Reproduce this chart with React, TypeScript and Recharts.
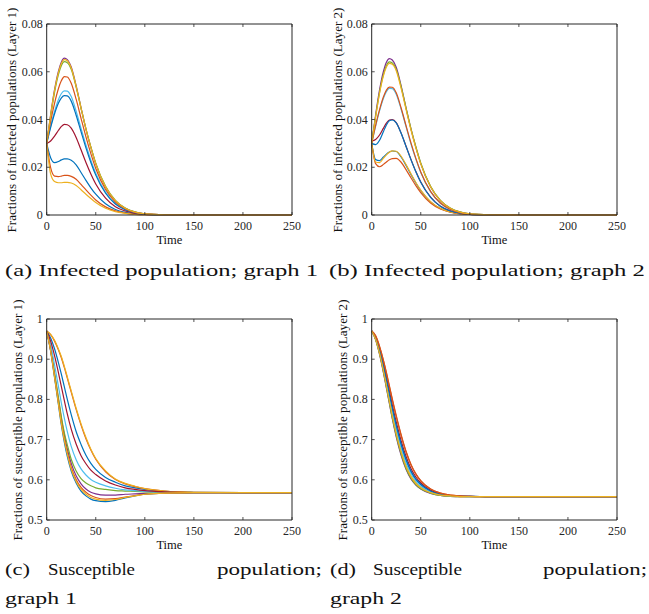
import React from 'react';
import { LineChart, Line, XAxis, YAxis } from 'recharts';

const TIME = [0, 4, 8, 12, 15, 18, 21, 25, 30, 35, 40, 45, 50, 60, 70, 80, 90, 100, 120, 150, 200, 250];
const COLORS = ['#0072BD', '#D95319', '#EDB120', '#7E2F8E', '#77AC30', '#4DBEEE', '#A2142F', '#0072BD', '#D95319', '#EDB120'];
const X_TICKS = [0, 50, 100, 150, 200, 250];
const I_TICKS = [0, 0.02, 0.04, 0.06, 0.08];
const S_TICKS = [0.5, 0.6, 0.7, 0.8, 0.9, 1];

// (a) infected, layer 1
const A1 = [0.030, 0.0240, 0.0219, 0.0224, 0.0231, 0.0235, 0.0235, 0.0229, 0.0210, 0.0178, 0.0145, 0.0114, 0.0087, 0.0047, 0.0023, 0.0011, 0.0005, 0.0002, 0, 0, 0, 0];
const A2 = [0.030, 0.0198, 0.0163, 0.0161, 0.0163, 0.0166, 0.0166, 0.0162, 0.0150, 0.0128, 0.0105, 0.0083, 0.0063, 0.0034, 0.0017, 0.0008, 0.0003, 0.0001, 0, 0, 0, 0];
const A3 = [0.030, 0.0172, 0.0140, 0.0135, 0.0135, 0.0137, 0.0137, 0.0134, 0.0124, 0.0106, 0.0087, 0.0069, 0.0052, 0.0028, 0.0014, 0.0007, 0.0003, 0.0001, 0, 0, 0, 0];
const A4 = [0.030, 0.0420, 0.0525, 0.0603, 0.0641, 0.0657, 0.0651, 0.0620, 0.0542, 0.0449, 0.0360, 0.0283, 0.0214, 0.0117, 0.0059, 0.0028, 0.0012, 0.0005, 0.0001, 0, 0, 0];
const A5 = [0.030, 0.0413, 0.0514, 0.0589, 0.0626, 0.0642, 0.0638, 0.0610, 0.0536, 0.0447, 0.0361, 0.0285, 0.0217, 0.0120, 0.0061, 0.0029, 0.0013, 0.0005, 0.0001, 0, 0, 0];
const A6 = [0.030, 0.0372, 0.0434, 0.0484, 0.0509, 0.0520, 0.0519, 0.0496, 0.0435, 0.0363, 0.0293, 0.0230, 0.0175, 0.0096, 0.0048, 0.0023, 0.0010, 0.0004, 0.0001, 0, 0, 0];
const A7 = [0.030, 0.0310, 0.0330, 0.0355, 0.0371, 0.0380, 0.0378, 0.0364, 0.0325, 0.0273, 0.0220, 0.0172, 0.0130, 0.0071, 0.0035, 0.0017, 0.0007, 0.0003, 0.0001, 0, 0, 0];
const A8 = [0.030, 0.0366, 0.0424, 0.0469, 0.0491, 0.0500, 0.0499, 0.0477, 0.0418, 0.0349, 0.0281, 0.0220, 0.0167, 0.0091, 0.0046, 0.0022, 0.0010, 0.0004, 0.0001, 0, 0, 0];
const A9 = [0.030, 0.0392, 0.0468, 0.0530, 0.0563, 0.0580, 0.0578, 0.0552, 0.0485, 0.0405, 0.0327, 0.0257, 0.0195, 0.0107, 0.0054, 0.0026, 0.0011, 0.0005, 0.0001, 0, 0, 0];
const A10 = [0.030, 0.0417, 0.0521, 0.0597, 0.0635, 0.0651, 0.0646, 0.0616, 0.0539, 0.0448, 0.0360, 0.0283, 0.0215, 0.0118, 0.0060, 0.0028, 0.0012, 0.0005, 0.0001, 0, 0, 0];

// (b) infected, layer 2
const B1 = [0.030, 0.0232, 0.0228, 0.0243, 0.0255, 0.0264, 0.0268, 0.0266, 0.0243, 0.0208, 0.0170, 0.0134, 0.0102, 0.0055, 0.0027, 0.0013, 0.0006, 0.0002, 0, 0, 0, 0];
const B2 = [0.030, 0.0215, 0.0202, 0.0212, 0.0222, 0.0231, 0.0236, 0.0237, 0.0221, 0.0190, 0.0156, 0.0123, 0.0094, 0.0050, 0.0025, 0.0012, 0.0005, 0.0002, 0, 0, 0, 0];
const B3 = [0.030, 0.0222, 0.0219, 0.0238, 0.0252, 0.0263, 0.0269, 0.0267, 0.0246, 0.0211, 0.0173, 0.0136, 0.0104, 0.0056, 0.0028, 0.0013, 0.0006, 0.0002, 0, 0, 0, 0];
const B4 = [0.030, 0.0420, 0.0524, 0.0602, 0.0640, 0.0655, 0.0649, 0.0619, 0.0541, 0.0449, 0.0361, 0.0284, 0.0215, 0.0118, 0.0060, 0.0028, 0.0012, 0.0005, 0.0001, 0, 0, 0];
const B5 = [0.030, 0.0413, 0.0514, 0.0589, 0.0626, 0.0641, 0.0637, 0.0610, 0.0537, 0.0448, 0.0362, 0.0286, 0.0218, 0.0120, 0.0061, 0.0029, 0.0013, 0.0005, 0.0001, 0, 0, 0];
const B6 = [0.030, 0.0372, 0.0436, 0.0489, 0.0517, 0.0530, 0.0529, 0.0506, 0.0443, 0.0370, 0.0298, 0.0234, 0.0178, 0.0098, 0.0049, 0.0023, 0.0010, 0.0004, 0.0001, 0, 0, 0];
const B7 = [0.031, 0.0316, 0.0335, 0.0364, 0.0385, 0.0398, 0.0400, 0.0387, 0.0343, 0.0288, 0.0233, 0.0182, 0.0138, 0.0075, 0.0037, 0.0018, 0.0008, 0.0003, 0.0001, 0, 0, 0];
const B8 = [0.030, 0.0295, 0.0313, 0.0350, 0.0377, 0.0395, 0.0398, 0.0386, 0.0342, 0.0287, 0.0232, 0.0181, 0.0137, 0.0074, 0.0037, 0.0017, 0.0008, 0.0003, 0.0001, 0, 0, 0];
const B9 = [0.030, 0.0375, 0.0441, 0.0495, 0.0523, 0.0536, 0.0535, 0.0512, 0.0448, 0.0374, 0.0302, 0.0237, 0.0180, 0.0099, 0.0050, 0.0024, 0.0010, 0.0004, 0.0001, 0, 0, 0];
const B10 = [0.030, 0.0410, 0.0510, 0.0584, 0.0620, 0.0635, 0.0631, 0.0604, 0.0530, 0.0442, 0.0357, 0.0281, 0.0214, 0.0118, 0.0060, 0.0028, 0.0012, 0.0005, 0.0001, 0, 0, 0];

// (c) susceptible, layer 1
const C1 = [0.970, 0.953, 0.926, 0.891, 0.862, 0.831, 0.800, 0.762, 0.720, 0.688, 0.661, 0.641, 0.626, 0.606, 0.594, 0.585, 0.580, 0.576, 0.571, 0.569, 0.568, 0.568];
const C2 = [0.970, 0.961, 0.945, 0.923, 0.903, 0.879, 0.853, 0.818, 0.775, 0.736, 0.702, 0.674, 0.651, 0.620, 0.601, 0.590, 0.583, 0.578, 0.572, 0.569, 0.568, 0.568];
const C3 = [0.970, 0.962, 0.947, 0.925, 0.906, 0.882, 0.856, 0.821, 0.778, 0.739, 0.705, 0.676, 0.653, 0.622, 0.602, 0.591, 0.584, 0.578, 0.572, 0.569, 0.568, 0.568];
const C4 = [0.970, 0.924, 0.863, 0.799, 0.751, 0.711, 0.677, 0.641, 0.610, 0.590, 0.577, 0.569, 0.565, 0.562, 0.562, 0.564, 0.565, 0.566, 0.567, 0.568, 0.568, 0.568];
const C5 = [0.970, 0.925, 0.866, 0.804, 0.756, 0.717, 0.687, 0.651, 0.622, 0.603, 0.592, 0.585, 0.580, 0.576, 0.573, 0.572, 0.571, 0.570, 0.569, 0.568, 0.568, 0.568];
const C6 = [0.970, 0.937, 0.886, 0.832, 0.790, 0.753, 0.720, 0.683, 0.650, 0.627, 0.612, 0.601, 0.594, 0.585, 0.579, 0.575, 0.573, 0.571, 0.569, 0.568, 0.568, 0.568];
const C7 = [0.970, 0.945, 0.909, 0.866, 0.831, 0.797, 0.764, 0.726, 0.689, 0.660, 0.640, 0.624, 0.613, 0.597, 0.587, 0.580, 0.576, 0.573, 0.570, 0.568, 0.568, 0.568];
const C8 = [0.970, 0.920, 0.854, 0.786, 0.735, 0.693, 0.658, 0.622, 0.592, 0.572, 0.560, 0.552, 0.548, 0.5455, 0.549, 0.555, 0.560, 0.564, 0.567, 0.568, 0.568, 0.568];
const C9 = [0.970, 0.922, 0.858, 0.792, 0.742, 0.702, 0.668, 0.631, 0.601, 0.581, 0.569, 0.561, 0.556, 0.552, 0.553, 0.557, 0.561, 0.564, 0.567, 0.568, 0.568, 0.568];
const C10 = [0.970, 0.921, 0.856, 0.789, 0.739, 0.698, 0.664, 0.626, 0.596, 0.576, 0.564, 0.556, 0.552, 0.549, 0.551, 0.556, 0.560, 0.564, 0.567, 0.568, 0.568, 0.568];

// (d) susceptible, layer 2
const D1 = [0.970, 0.953, 0.922, 0.882, 0.848, 0.812, 0.777, 0.734, 0.687, 0.649, 0.621, 0.601, 0.588, 0.572, 0.564, 0.561, 0.559, 0.559, 0.558, 0.558, 0.558, 0.558];
const D2 = [0.970, 0.958, 0.932, 0.897, 0.867, 0.834, 0.801, 0.760, 0.712, 0.671, 0.639, 0.615, 0.598, 0.577, 0.567, 0.562, 0.560, 0.559, 0.558, 0.558, 0.558, 0.558];
const D3 = [0.970, 0.950, 0.916, 0.872, 0.836, 0.799, 0.762, 0.718, 0.671, 0.635, 0.609, 0.593, 0.581, 0.568, 0.562, 0.560, 0.558, 0.558, 0.558, 0.558, 0.558, 0.558];
const D4 = [0.970, 0.948, 0.912, 0.866, 0.828, 0.790, 0.752, 0.707, 0.661, 0.626, 0.602, 0.587, 0.577, 0.566, 0.561, 0.559, 0.558, 0.558, 0.558, 0.558, 0.558, 0.558];
const D5 = [0.970, 0.949, 0.913, 0.868, 0.830, 0.792, 0.754, 0.710, 0.664, 0.628, 0.604, 0.588, 0.578, 0.567, 0.561, 0.559, 0.558, 0.558, 0.558, 0.558, 0.558, 0.558];
const D6 = [0.970, 0.952, 0.919, 0.877, 0.842, 0.805, 0.769, 0.726, 0.679, 0.642, 0.615, 0.597, 0.584, 0.570, 0.563, 0.560, 0.559, 0.558, 0.558, 0.558, 0.558, 0.558];
const D7 = [0.970, 0.955, 0.926, 0.888, 0.855, 0.821, 0.786, 0.744, 0.697, 0.658, 0.628, 0.607, 0.592, 0.574, 0.565, 0.561, 0.559, 0.559, 0.558, 0.558, 0.558, 0.558];
const D8 = [0.970, 0.954, 0.923, 0.883, 0.850, 0.814, 0.779, 0.736, 0.689, 0.651, 0.622, 0.602, 0.589, 0.572, 0.564, 0.561, 0.559, 0.559, 0.558, 0.558, 0.558, 0.558];
const D9 = [0.970, 0.958, 0.931, 0.896, 0.865, 0.832, 0.799, 0.757, 0.710, 0.669, 0.637, 0.614, 0.597, 0.577, 0.567, 0.562, 0.560, 0.559, 0.558, 0.558, 0.558, 0.558];
const D10 = [0.970, 0.950, 0.915, 0.871, 0.834, 0.797, 0.759, 0.715, 0.669, 0.633, 0.608, 0.591, 0.580, 0.568, 0.562, 0.560, 0.558, 0.558, 0.558, 0.558, 0.558, 0.558];

const SERIES_A = [A1, A2, A3, A4, A5, A6, A7, A8, A9, A10];
const SERIES_B = [B1, B2, B3, B4, B5, B6, B7, B8, B9, B10];
const SERIES_C = [C1, C2, C3, C4, C5, C6, C7, C8, C9, C10];
const SERIES_D = [D1, D2, D3, D4, D5, D6, D7, D8, D9, D10];

const FONT = '"Liberation Serif", "Times New Roman", serif';
const AX = '#262626';
const TL = 3;

const fmtI = (v: number) => (v === 0 ? '0' : v.toFixed(2));
const fmtS = (v: number) => (v === 1 ? '1' : v.toFixed(1));

const BottomTick = (props: any) => {
  const { x, y, payload } = props;
  return (
    <g>
      <line x1={x} x2={x} y1={y} y2={y - TL} stroke={AX} strokeWidth={0.8} />
      <text x={x} y={y + 14.5} textAnchor="middle" fontSize={12} fontFamily={FONT} fill={AX}>
        {payload.value}
      </text>
    </g>
  );
};
const TopTick = (props: any) => {
  const { x, y } = props;
  return <line x1={x} x2={x} y1={y} y2={y + TL} stroke={AX} strokeWidth={0.8} />;
};
function makeLeftTick(fmt: (v: number) => string) {
  return (props: any) => {
    const { x, y, payload } = props;
    return (
      <g>
        <line x1={x} x2={x + TL} y1={y} y2={y} stroke={AX} strokeWidth={0.8} />
        <text x={x - 4} y={y + 4} textAnchor="end" fontSize={12} fontFamily={FONT} fill={AX}>
          {fmt(payload.value)}
        </text>
      </g>
    );
  };
}
const RightTick = (props: any) => {
  const { x, y } = props;
  return <line x1={x} x2={x - TL} y1={y} y2={y} stroke={AX} strokeWidth={0.8} />;
};

type PanelProps = {
  left: number;
  top: number;
  plotTop: number;
  plotBottom: number;
  series: number[][];
  domain: [number, number];
  ticks: number[];
  fmt: (v: number) => string;
};

function Panel({ left, top, plotTop, plotBottom, series, domain, ticks, fmt }: PanelProps) {
  const W = 324;
  const H = 262;
  const data = TIME.map((t, i) => {
    const o: any = { t };
    series.forEach((s, k) => {
      o['s' + k] = s[i];
    });
    return o;
  });
  return (
    <div style={{ position: 'absolute', left, top, width: W, height: H }}>
      <LineChart
        width={W}
        height={H}
        data={data}
        margin={{ top: plotTop - 1, left: 46.7 - 1, right: W - 292 - 1, bottom: H - plotBottom - 1 }}
      >
        <XAxis
          xAxisId="b"
          dataKey="t"
          type="number"
          domain={[0, 250]}
          ticks={X_TICKS}
          height={1}
          tickSize={0}
          tickMargin={0}
          interval={0}
          axisLine={{ stroke: AX, strokeWidth: 1 }}
          tickLine={false}
          tick={BottomTick}
        />
        <XAxis
          xAxisId="t"
          dataKey="t"
          type="number"
          orientation="top"
          domain={[0, 250]}
          ticks={X_TICKS}
          height={1}
          tickSize={0}
          tickMargin={0}
          interval={0}
          axisLine={{ stroke: AX, strokeWidth: 1 }}
          tickLine={false}
          tick={TopTick}
        />
        <YAxis
          yAxisId="l"
          type="number"
          domain={domain}
          ticks={ticks}
          width={1}
          tickSize={0}
          tickMargin={0}
          interval={0}
          axisLine={{ stroke: AX, strokeWidth: 1 }}
          tickLine={false}
          tick={makeLeftTick(fmt)}
        />
        <YAxis
          yAxisId="r"
          type="number"
          orientation="right"
          domain={domain}
          ticks={ticks}
          width={1}
          tickSize={0}
          tickMargin={0}
          interval={0}
          axisLine={{ stroke: AX, strokeWidth: 1 }}
          tickLine={false}
          tick={RightTick}
        />
        {series.map((_, k) => (
          <Line
            key={k}
            xAxisId="b"
            yAxisId="l"
            dataKey={'s' + k}
            type="monotone"
            stroke={COLORS[k]}
            strokeWidth={1.2}
            dot={false}
            isAnimationActive={false}
          />
        ))}
      </LineChart>
    </div>
  );
}

function Overlay() {
  const txt = { fontFamily: FONT, fill: '#111' } as const;
  const cap = { ...txt, fontSize: 17.5 } as const;
  return (
    <svg
      width={649}
      height={614}
      style={{ position: 'absolute', left: 0, top: 0, pointerEvents: 'none' }}
    >
      {/* y labels */}
      <text transform="translate(12,120) rotate(-90)" textAnchor="middle" dominantBaseline="central" fontSize={11.5} textLength={225} lengthAdjust="spacingAndGlyphs" {...txt}>
        Fractions of infected populations (Layer 1)
      </text>
      <text transform="translate(338,120) rotate(-90)" textAnchor="middle" dominantBaseline="central" fontSize={11.5} textLength={225} lengthAdjust="spacingAndGlyphs" {...txt}>
        Fractions of infected populations (Layer 2)
      </text>
      <text transform="translate(17.5,420) rotate(-90)" textAnchor="middle" dominantBaseline="central" fontSize={11.5} textLength={241} lengthAdjust="spacingAndGlyphs" {...txt}>
        Fractions of susceptible populations (Layer 1)
      </text>
      <text transform="translate(343,420) rotate(-90)" textAnchor="middle" dominantBaseline="central" fontSize={11.5} textLength={241} lengthAdjust="spacingAndGlyphs" {...txt}>
        Fractions of susceptible populations (Layer 2)
      </text>
      {/* x labels */}
      <text x={169.4} y={244} textAnchor="middle" fontSize={12.5} {...txt}>Time</text>
      <text x={494.4} y={244} textAnchor="middle" fontSize={12.5} {...txt}>Time</text>
      <text x={169.4} y={549} textAnchor="middle" fontSize={12.5} {...txt}>Time</text>
      <text x={494.4} y={549} textAnchor="middle" fontSize={12.5} {...txt}>Time</text>
      {/* captions */}
      <text x={5} y={276} textLength={313} lengthAdjust="spacingAndGlyphs" {...cap}>(a) Infected population; graph 1</text>
      <text x={329} y={276} textLength={316} lengthAdjust="spacingAndGlyphs" {...cap}>(b) Infected population; graph 2</text>
      <text x={5} y={575} textLength={25} lengthAdjust="spacingAndGlyphs" {...cap}>(c)</text>
      <text x={48} y={575} textLength={87} lengthAdjust="spacingAndGlyphs" {...cap}>Susceptible</text>
      <text x={217} y={575} textLength={105} lengthAdjust="spacingAndGlyphs" {...cap}>population;</text>
      <text x={5} y={604} textLength={72} lengthAdjust="spacingAndGlyphs" {...cap}>graph 1</text>
      <text x={330} y={575} textLength={26} lengthAdjust="spacingAndGlyphs" {...cap}>(d)</text>
      <text x={373} y={575} textLength={89} lengthAdjust="spacingAndGlyphs" {...cap}>Susceptible</text>
      <text x={543} y={575} textLength={104} lengthAdjust="spacingAndGlyphs" {...cap}>population;</text>
      <text x={330} y={604} textLength={72} lengthAdjust="spacingAndGlyphs" {...cap}>graph 2</text>
    </svg>
  );
}

export default function App() {
  return (
    <div style={{ position: 'absolute', left: 0, top: 0, width: 649, height: 614, background: '#fff' }}>
      <Panel left={0} top={0} plotTop={24} plotBottom={215} series={SERIES_A} domain={[0, 0.08]} ticks={I_TICKS} fmt={fmtI} />
      <Panel left={325} top={0} plotTop={24} plotBottom={215} series={SERIES_B} domain={[0, 0.08]} ticks={I_TICKS} fmt={fmtI} />
      <Panel left={0} top={300} plotTop={19} plotBottom={220} series={SERIES_C} domain={[0.5, 1]} ticks={S_TICKS} fmt={fmtS} />
      <Panel left={325} top={300} plotTop={19} plotBottom={220} series={SERIES_D} domain={[0.5, 1]} ticks={S_TICKS} fmt={fmtS} />
      <Overlay />
    </div>
  );
}
